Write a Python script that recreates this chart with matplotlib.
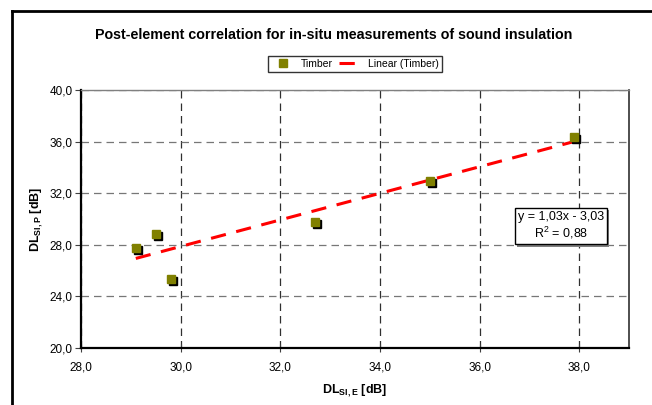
import matplotlib

matplotlib.use("Agg")
import matplotlib.patheffects as pe
import matplotlib.pyplot as plt
import matplotlib.transforms as mtransforms
import numpy as np
from matplotlib.lines import Line2D

plt.rcParams["font.family"] = ["Liberation Sans", "DejaVu Sans"]
plt.rcParams["mathtext.fontset"] = "custom"
plt.rcParams["mathtext.rm"] = "Liberation Sans"
plt.rcParams["mathtext.bf"] = "Liberation Sans:bold"

# data
dl_si_e = [29.1, 29.5, 29.8, 32.7, 35.0, 37.9]
dl_si_p = [27.75, 28.85, 25.35, 29.75, 32.95, 36.35]
slope = 1.03
intercept = -3.03
r_squared = 0.88
x_ticks = [28.0, 30.0, 32.0, 34.0, 36.0, 38.0]
y_ticks = [20.0, 24.0, 28.0, 32.0, 36.0, 40.0]


def comma(v: float) -> str:
    return f"{v:.1f}".replace(".", ",")


W, H = 652, 405
fig = plt.figure(figsize=(W / 100, H / 100), dpi=100)

# outer chart frame (only left/top edges fall inside the image)
fig.add_artist(Line2D([12 / W, 12 / W], [0, 1 - 11 / H], color="black", lw=2, transform=fig.transFigure))
fig.add_artist(Line2D([12 / W, 1], [1 - 11 / H, 1 - 11 / H], color="black", lw=2, transform=fig.transFigure))

ax = fig.add_axes([81 / W, 1 - 348 / H, (629 - 81) / W, (348 - 90) / H])
ax.set_xlim(28, 39)
ax.set_ylim(20, 40)
ax.set_xticks(x_ticks)
ax.set_yticks(y_ticks)
ax.set_xticklabels([comma(v) for v in x_ticks], fontsize=8.5)
ax.set_yticklabels([comma(v) for v in y_ticks], fontsize=8.5)
ax.tick_params(axis="x", direction="inout", length=6, color="#404040", pad=7)
ax.tick_params(axis="y", direction="out", length=4, color="#404040", pad=2)

ax.xaxis.grid(True, color="#303030", linestyle=(0, (6, 4)), linewidth=0.9)
ax.yaxis.grid(True, color="#777777", linestyle=(0, (6, 4)), linewidth=0.9)
ax.set_axisbelow(True)

ax.spines["left"].set_linewidth(1.6)
ax.spines["bottom"].set_linewidth(1.6)
ax.spines["left"].set_color("black")
ax.spines["bottom"].set_color("black")
ax.spines["top"].set_color("#808080")
ax.spines["right"].set_color("#303030")
ax.spines["top"].set_linewidth(1.0)
ax.spines["right"].set_linewidth(1.2)

# trendline from the stated equation
xs = np.array([min(dl_si_e), max(dl_si_e)])
ax.plot(xs, slope * xs + intercept, color="#ff0000", lw=2.2, linestyle=(0, (5, 3.5)),
        label="Linear (Timber)", zorder=3)

# marker shadow, then markers
shadow = mtransforms.offset_copy(ax.transData, fig=fig, x=2, y=-2, units="dots")
ax.plot(dl_si_e, dl_si_p, linestyle="none", marker="s", markersize=6, color="black",
        transform=shadow, zorder=4)
ax.plot(dl_si_e, dl_si_p, linestyle="none", marker="s", markersize=6, color="#808000",
        markeredgecolor="#808000", label="Timber", zorder=5)

eq = f"y = {slope:.2f}x - {abs(intercept):.2f}".replace(".", ",")
r2 = f"R$^2$ = {r_squared:.2f}".replace(".", ",")
fig.text(561 / W, 1 - 226 / H, eq + "\n" + r2, ha="center", va="center", fontsize=9,
         linespacing=1.2,
         bbox=dict(boxstyle="square,pad=0.25", facecolor="white", edgecolor="black", lw=1.0,
                   path_effects=[pe.SimplePatchShadow(offset=(1.5, -1.5), shadow_rgbFace="#808080", alpha=1.0),
                                 pe.Normal()]))

ax.set_xlabel(r"DL$_{\mathbf{SI,E}}$ [dB]", fontsize=9, fontweight="bold", labelpad=6)
ax.set_ylabel(r"DL$_{\mathbf{SI,P}}$ [dB]", fontsize=9, fontweight="bold", labelpad=3)

fig.text(334 / W, 1 - 35 / H, "Post-element correlation for in-situ measurements of sound insulation",
         ha="center", va="center", fontsize=10.25, fontweight="bold")

handles, labels = ax.get_legend_handles_labels()
leg = fig.legend(handles=handles[::-1], labels=labels[::-1],
                 loc="center", bbox_to_anchor=(355 / W, 1 - 64 / H), ncol=2, fontsize=7.5,
                 frameon=True, fancybox=False, edgecolor="black", handlelength=2.2,
                 columnspacing=0.6, handletextpad=0.6, borderpad=0.3)
leg.get_frame().set_linewidth(1.0)

fig.savefig("out.png", dpi=100)
